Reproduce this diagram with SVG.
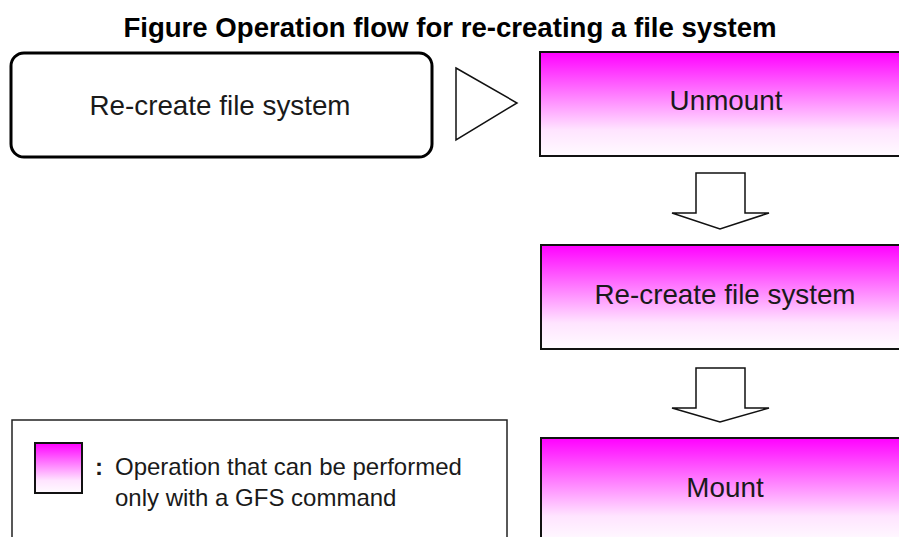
<svg xmlns="http://www.w3.org/2000/svg" width="899" height="537" viewBox="0 0 899 537">
<style>
.t{font-family:"Liberation Sans",Arial,sans-serif;fill:#1a1a1a}
.title{font-family:"Liberation Sans",Arial,sans-serif;font-weight:bold;font-size:27.6px;fill:#000}
.op{fill:url(#mg);stroke:#111;stroke-width:2}
.arr{fill:#fff;stroke:#111;stroke-width:1.5;stroke-linejoin:miter}
</style>
<defs>
<linearGradient id="mg" x1="0" y1="0" x2="0" y2="1">
<stop offset="0" stop-color="#ff00ff"/>
<stop offset="0.75" stop-color="#ffe4ff"/>
<stop offset="1" stop-color="#fffbff"/>
</linearGradient>
</defs>
<rect width="899" height="537" fill="#fff"/>
<text class="title" x="450" y="37" text-anchor="middle">Figure Operation flow for re-creating a file system</text>
<g id="start">
<rect x="11" y="53" width="421" height="104" rx="13" fill="#fff" stroke="#000" stroke-width="3"/>
<text class="t" x="220" y="115" font-size="27.8" text-anchor="middle">Re-create file system</text>
</g>
<g id="unmount">
<rect class="op" x="540" y="52" width="372" height="104"/>
<text class="t" x="726" y="110" font-size="27.8" text-anchor="middle">Unmount</text>
</g>
<g id="recreate">
<rect class="op" x="541" y="245" width="372" height="104"/>
<text class="t" x="725" y="304" font-size="27.8" text-anchor="middle">Re-create file system</text>
</g>
<g id="mount">
<rect class="op" x="541" y="438" width="372" height="104"/>
<text class="t" x="725" y="497" font-size="27.8" text-anchor="middle">Mount</text>
</g>
<g id="connectors">
<polygon class="arr" points="456,68 517,103 456,140"/>
<polygon class="arr" points="696,173 745,173 745,213 769,213 720,229 672,213 696,213"/>
<polygon class="arr" points="696,368 745,368 745,408 769,408 720,422 672,408 696,408"/>
</g>
<g id="legend">
<rect x="12" y="420" width="495" height="130" fill="#fff" stroke="#222" stroke-width="1.5"/>
<rect x="35" y="443" width="47" height="50" fill="url(#mg)" stroke="#111" stroke-width="2"/>
<text class="t" x="95" y="475" font-size="24" font-weight="bold">:</text>
<text class="t" x="115" y="475" font-size="24">Operation that can be performed</text>
<text class="t" x="115" y="506" font-size="24">only with a GFS command</text>
</g>
</svg>
